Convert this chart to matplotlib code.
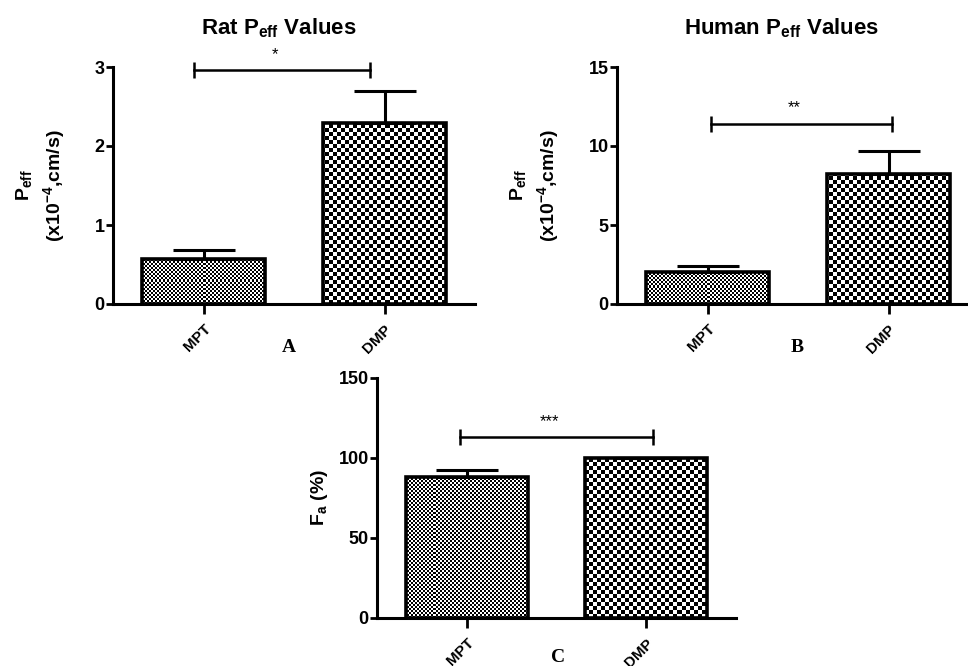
import numpy as np
import matplotlib
matplotlib.use('Agg')
import matplotlib.pyplot as plt

plt.rcParams['font.family'] = 'Liberation Sans'
plt.rcParams['font.weight'] = 'bold'
plt.rcParams['axes.labelweight'] = 'bold'
plt.rcParams['mathtext.fontset'] = 'custom'
plt.rcParams['mathtext.rm'] = 'Liberation Sans:bold'
plt.rcParams['mathtext.it'] = 'Liberation Sans:bold'
plt.rcParams['mathtext.bf'] = 'Liberation Sans:bold'
plt.rcParams['mathtext.default'] = 'rm'

groups = ['MPT', 'DMP']

rat_peff = [0.57, 2.29]
rat_err = [0.11, 0.40]

human_peff = [2.03, 8.2]
human_err = [0.40, 1.48]

fa = [88.0, 100.0]
fa_err = [4.4, 0.0]

# significance brackets: (x start, x end, y, label)
rat_sig = (-0.05, 0.92, 2.96, '*')
human_sig = (0.02, 1.02, 11.4, '**')
fa_sig = (-0.04, 1.04, 113, '***')

cell_px = [2, 4]  # checker size for MPT, DMP

W, H = 968, 666
fig = plt.figure(figsize=(W / 100, H / 100), dpi=100)


def checker(ax, bar, cell, ymax):
    pos = ax.get_position()
    wpx = pos.width * W
    hpx = pos.height * H
    nx = int(round(wpx / cell))
    ny = int(round(hpx / cell))
    img = (np.add.outer(np.arange(ny), np.arange(nx)) % 2).astype(float)
    im = ax.imshow(img, extent=(-0.5, -0.5 + nx * cell / wpx * 2, 0, ny * cell / hpx * ymax),
                   cmap='gray', interpolation='nearest', aspect='auto', origin='lower', zorder=1)
    im.set_clip_path(bar)


def panel(rect, vals, errs, ymax, yticks, ylabel, sig, lpad):
    ax = fig.add_axes(rect)
    bars = ax.bar(range(len(groups)), vals, width=0.68, color='white',
                  edgecolor='black', linewidth=2.6, zorder=2)
    for b, c in zip(bars, cell_px):
        b.set_facecolor('none')
        checker(ax, b, c, ymax)
    ax.errorbar(range(len(groups)), vals, yerr=[[0] * len(errs), errs], fmt='none',
                ecolor='black', elinewidth=2.2, capsize=22.5, capthick=2.2, zorder=1.5)
    ax.set_xlim(-0.5, 1.5)
    ax.set_ylim(0, ymax)
    ax.set_yticks(yticks)
    ax.set_xticks(range(len(groups)))
    ax.set_xticklabels(groups, rotation=45, ha='right', rotation_mode='anchor')
    ax.tick_params(axis='y', width=2, length=5, labelsize=13, pad=1)
    ax.tick_params(axis='x', width=2, length=7, labelsize=11, pad=6)
    for s in ['top', 'right']:
        ax.spines[s].set_visible(False)
    for s in ['left', 'bottom']:
        ax.spines[s].set_linewidth(2.2)
    ax.set_ylabel(ylabel, fontsize=14, labelpad=lpad, linespacing=1.35)
    x1, x2, y, lab = sig
    ax.plot([x1, x2], [y, y], color='black', lw=1.8, marker='|', markersize=11,
            markeredgewidth=1.8, clip_on=False, zorder=3)
    ax.text((x1 + x2) / 2 - 0.04, y + ymax * 0.035, lab, ha='center', va='bottom',
            fontsize=12, fontweight='normal', clip_on=False)
    return ax


ax_a = panel([113 / W, 362 / H, 362 / W, 237 / H], rat_peff, rat_err, 3, [0, 1, 2, 3],
             'P$_{eff}$\n(x10$^{-4}$,cm/s)', rat_sig, 20)
ax_b = panel([617 / W, 362 / H, 362 / W, 237 / H], human_peff, human_err, 15, [0, 5, 10, 15],
             'P$_{eff}$\n(x10$^{-4}$,cm/s)', human_sig, 20)
ax_c = panel([377 / W, 48 / H, 359 / W, 240 / H], fa, fa_err, 150, [0, 50, 100, 150],
             'F$_{a}$ (%)', fa_sig, 6)

fig.text(279 / W, 1 - 28 / H, 'Rat P$_{eff}$ Values', ha='center', va='center', fontsize=16)
fig.text(782 / W, 1 - 28 / H, 'Human P$_{eff}$ Values', ha='center', va='center', fontsize=16)

for lab, x, y in [('A', 289, 347), ('B', 797, 347), ('C', 558, 658)]:
    fig.text(x / W, 1 - y / H, lab, ha='center', va='center', fontsize=14,
             family='Liberation Serif', fontweight='bold')

fig.savefig('out.png', dpi=100)
